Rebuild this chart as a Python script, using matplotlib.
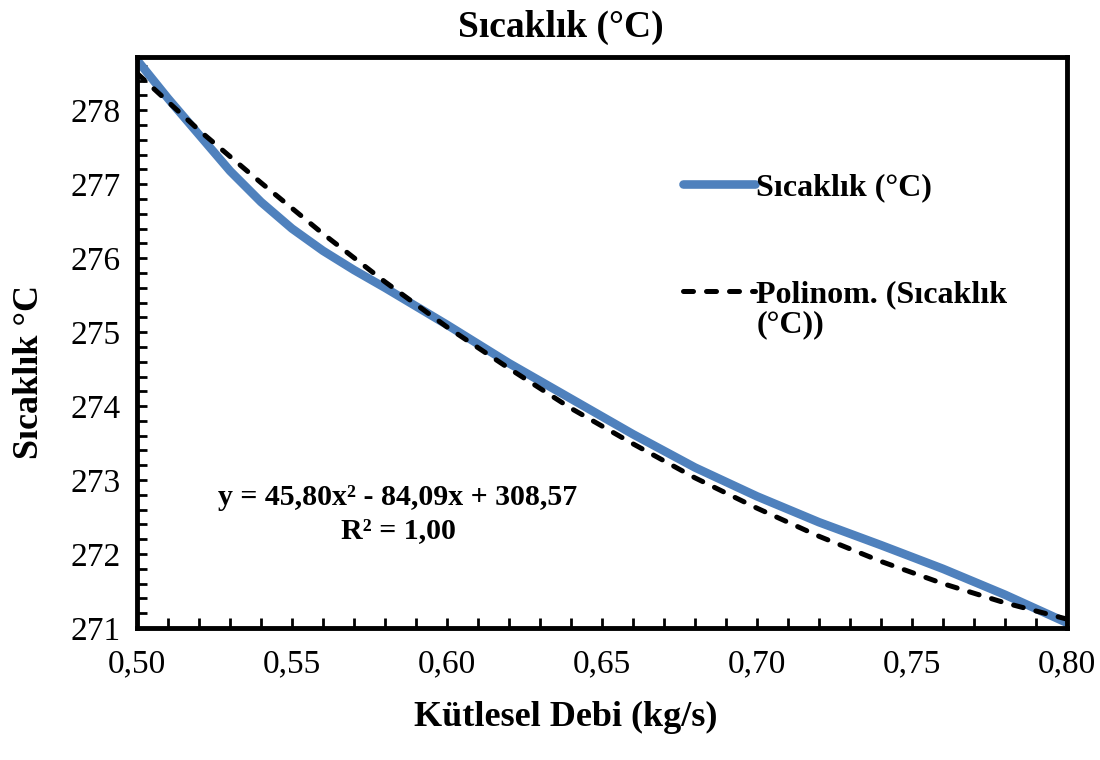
"""
Sıcaklık (°C) vs Kütlesel Debi, with 2nd order polynomial trendline.
"""

import matplotlib.pyplot as plt
from matplotlib.ticker import MultipleLocator

plt.rcParams['font.family'] = ['Liberation Serif', 'DejaVu Serif']

# Data
debi = [0.50, 0.51, 0.52, 0.53, 0.54, 0.55, 0.56, 0.57, 0.58, 0.59, 0.60,
        0.62, 0.64, 0.66, 0.68, 0.70, 0.72, 0.74, 0.76, 0.78, 0.80]
sicaklik = [278.68, 278.16, 277.67, 277.18, 276.76, 276.40, 276.10, 275.84,
            275.60, 275.35, 275.10, 274.58, 274.10, 273.62, 273.17, 272.78,
            272.43, 272.12, 271.80, 271.45, 271.07]
polinom_x = [0.50, 0.52, 0.54, 0.56, 0.58, 0.60, 0.62, 0.64,
             0.66, 0.68, 0.70, 0.72, 0.74, 0.76, 0.78, 0.80]
polinom = [278.50, 277.73, 277.02, 276.33, 275.68, 275.07, 274.51, 273.97,
           273.49, 273.03, 272.62, 272.24, 271.90, 271.60, 271.34, 271.12]

xticks = [0.50, 0.55, 0.60, 0.65, 0.70, 0.75, 0.80]
xtick_labels = ['0,50', '0,55', '0,60', '0,65', '0,70', '0,75', '0,80']
yticks = [271, 272, 273, 274, 275, 276, 277, 278]

equation = 'y = 45,80x² - 84,09x + 308,57\nR² = 1,00'

fig = plt.figure(figsize=(11, 7.6), dpi=100)
ax = fig.add_axes([137/1100, 132/760, 930/1100, 571/760])

blue, = ax.plot(debi, sicaklik, color='#4F81BD', lw=6.2,
                solid_capstyle='round', solid_joinstyle='round',
                label='Sıcaklık (°C)')
trend, = ax.plot(polinom_x, polinom, color='black', lw=3.6, dashes=(2.0, 2.6),
                 dash_capstyle='round', label='Polinom. (Sıcaklık')

ax.set_xlim(0.50, 0.80)
ax.set_ylim(271, 278.72)
ax.set_xticks(xticks)
ax.set_xticklabels(xtick_labels)
ax.set_yticks(yticks)
ax.xaxis.set_minor_locator(MultipleLocator(0.01))
ax.yaxis.set_minor_locator(MultipleLocator(0.2))
ax.tick_params(which='both', direction='in', length=7, width=2)
ax.tick_params(axis='x', which='major', pad=15, labelsize=24)
ax.tick_params(axis='y', which='major', pad=12, labelsize=24)
for s in ax.spines.values():
    s.set_linewidth(3.5)

leg = ax.legend(handles=[blue, trend], loc='upper left',
                bbox_to_anchor=(0.587, 0.797), frameon=False,
                handlelength=2.25, handletextpad=0.05, labelspacing=2.42,
                borderpad=0, borderaxespad=0,
                prop={'weight': 'bold', 'size': 23})
ax.text(0.6667, 0.5306, '(°C))', transform=ax.transAxes, fontsize=23,
        fontweight='bold', va='center', ha='left')

ax.text(0.2806, 0.20, equation, transform=ax.transAxes, fontsize=21.5,
        fontweight='bold', ha='center', va='center', multialignment='center',
        linespacing=1.3)

fig.text(0.51, 0.964, 'Sıcaklık (°C)', fontsize=27, fontweight='bold',
         ha='center', va='center')
fig.text(0.514, 0.0553, 'Kütlesel Debi (kg/s)', fontsize=26,
         fontweight='bold', ha='center', va='center')
fig.text(0.027, 0.511, 'Sıcaklık °C', fontsize=26, fontweight='bold',
         rotation=90, ha='center', va='center')

fig.savefig('out.png', dpi=100)
